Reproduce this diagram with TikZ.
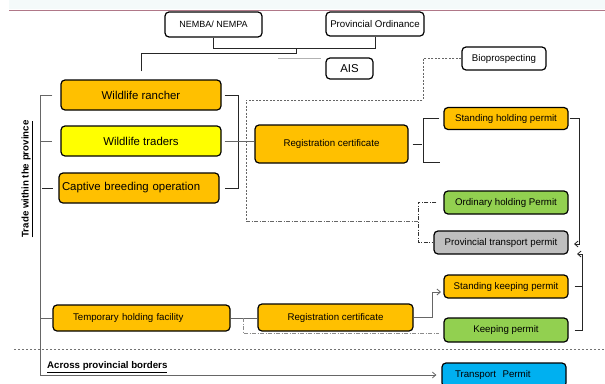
\documentclass[tikz,border=0pt]{standalone}
\usepackage{fontspec}
\setmainfont{Liberation Sans}
\usetikzlibrary{arrows.meta}
\definecolor{orng}{HTML}{FFC000}
\definecolor{yllw}{HTML}{FFFF00}
\definecolor{grn}{HTML}{92D050}
\definecolor{gry}{HTML}{BFBFBF}
\definecolor{blu}{HTML}{00B0F0}
\definecolor{hdr}{HTML}{F4FAFA}
\definecolor{hdrline}{HTML}{B07888}
\begin{document}
\begin{tikzpicture}[x=1pt,y=-1pt,
  box/.style={draw=black, line width=1.2pt, rounded corners=4pt, inner sep=0pt, font=\fontsize{9.7}{11}\selectfont},
  big/.style={font=\fontsize{11.4}{13}\selectfont},
  ln/.style={draw=black!85, line width=0.8pt},
  gln/.style={draw=black!60, line width=0.8pt},
  tip/.style={-{Straight Barb[length=3.5pt,width=6pt]}},
  lbl/.style={inner sep=0pt, font=\bfseries\fontsize{9.7}{11}\selectfont}
]
\useasboundingbox (0,0) rectangle (605,383);
% header
\fill[hdr] (9,0) rectangle (605,9);
\draw[hdrline, line width=1.5pt] (9,10.5) -- (605,10.5);

% nodes
\node[box, minimum width=97pt, minimum height=25pt, font=\fontsize{9}{11}\selectfont] (nemba) at (213.5,24.5) {NEMBA/ NEMPA};
\node[box, minimum width=98pt, minimum height=24pt] (prov) at (375,24) {Provincial Ordinance};
\node[box, big, minimum width=47pt, minimum height=21pt] (ais) at (349.5,68.5) {AIS};
\node[box, minimum width=84pt, minimum height=23pt] (bio) at (504,58.5) {Bioprospecting};

\node[box, big, fill=orng, minimum width=160pt, minimum height=30pt] (rancher) at (141,95) {Wildlife rancher};
\node[box, big, fill=yllw, minimum width=160pt, minimum height=30pt] (traders) at (141,141) {Wildlife traders};
\node[box, big, fill=orng, minimum height=30pt, inner xsep=3pt, text width=154pt, align=left] (captive) at (139,188) {Captive breeding operation};

\node[box, fill=orng, minimum width=153pt, minimum height=38pt] (reg1) at (331.5,144) {Registration certificate};

\node[box, fill=orng, minimum width=124pt, minimum height=22pt] (shp) at (506,118.5) {Standing holding permit};
\node[box, fill=grn, minimum width=124pt, minimum height=23pt] (ohp) at (506,202.5) {Ordinary holding Permit};
\node[box, fill=gry, minimum width=134pt, minimum height=23pt] (ptp) at (501,242.5) {Provincial transport permit};
\node[box, fill=orng, minimum width=124pt, minimum height=23pt] (skp) at (506,286.5) {Standing keeping permit};
\node[box, fill=grn, minimum width=124pt, minimum height=24pt] (kp) at (506,330) {Keeping permit};
\node[box, fill=blu, minimum height=24pt, inner xsep=13pt, text width=98pt, align=left] (tp) at (504,375) {Transport~ Permit};

\node[box, fill=orng, minimum height=26pt, inner xsep=20pt, text width=137pt, align=left] (temp) at (141.5,318) {Temporary holding facility};
\node[box, fill=orng, minimum width=155pt, minimum height=27pt] (reg2) at (335.5,317.5) {Registration certificate};

% labels
\node[lbl, rotate=90] (trade) at (27,179) {\underline{Trade within the province}};
\node[lbl, anchor=west] (across) at (47,367) {\underline{Across provincial borders}};

% top connectors
\coordinate (j1) at (296,48);
\coordinate (j2) at (296,53);
\draw[ln] (nemba.south) -- ++(0,11) -| (prov.south);
\draw[ln] ([yshift=8pt]rancher.north) |- (j2) -- (j1);
\coordinate (g1) at (278,58);
\coordinate (g2) at (321,58);
\draw[draw=black!30, line width=0.8pt] (g1) -- (g2);

% bioprospecting
\coordinate (b1) at (423,100);
\coordinate (b2) at (246,100);
\coordinate (b3) at (246,221);
\coordinate (b4) at (418,221);
\draw[gln, dashed, dash pattern=on 2pt off 1.5pt] (bio.west) -| (b1) -- (b2) -- (b3);
\draw[gln, dash pattern=on 4pt off 1.5pt on 1pt off 1.5pt] (b3) -- (b4);
\draw[draw=black!80, line width=0.8pt, dash pattern=on 4pt off 1.5pt on 1pt off 1.5pt] ([xshift=-7pt]ohp.west) -| (b4) |- ([xshift=-1pt]ptp.west);

% left bracket
\coordinate (L1) at (40,95);
\coordinate (L2) at (40,375);
\draw[gln, tip] ([xshift=-8pt]rancher.west) -- (L1) -- (L2) -- ([xshift=-5pt]tp.west |- L2);
\draw[gln] (L1 |- traders.west) -- ([xshift=-8pt]traders.west);
\draw[ln] ([xshift=-16pt]captive.west) -- ([xshift=-5pt]captive.west);
\draw[gln] (L1 |- temp.west) -- (temp.west);

% right bracket of top boxes
\coordinate (R1) at (238,98);
\draw[ln] ([xshift=3pt]rancher.east) -| (R1 |- captive.east) -- ([xshift=5pt]captive.east);
\draw[gln] ([xshift=3pt]traders.east) -- (reg1.west |- traders.east);

% registration certificate 1 outputs
\coordinate (R2t) at (423,118.5);
\coordinate (R2b) at (423,162);
\coordinate (R2e) at (440,162);
\coordinate (R2m) at (422,144);
\draw[ln] ([xshift=4pt]reg1.east) -- (R2m);
\draw[ln] ([xshift=-4pt]shp.west) -- (R2t) -- (R2b) -- (R2e);

% right arrows to provincial transport permit
\coordinate (A1) at (579,244);
\coordinate (A1t) at (574,244);
\draw[ln, tip] ([xshift=1pt]shp.east) -- (shp.east -| A1) -- (A1) -- (A1t);
\coordinate (A2) at (582,254);
\coordinate (A2t) at (577,254);
\draw[ln] ([xshift=6pt]skp.east) -- (skp.east -| A2);
\draw[ln, tip] ([xshift=6pt]kp.east) -- (kp.east -| A2) -- (A2) -- (A2t);

% temporary holding facility
\draw[gln] (temp.east) -- (temp.east -| reg2.west);
\coordinate (D1) at (243,318);
\coordinate (D2) at (243,333);
\draw[draw=black!45, line width=0.8pt, dash pattern=on 4pt off 1.5pt on 1pt off 1.5pt] (D1) -- (D2) -- ([xshift=-4pt]kp.west |- D2);
\coordinate (S1) at (432,317.5);
\coordinate (S2) at (432,292);
\coordinate (S3) at (441,292);
\draw[gln, tip] (reg2.east) -- (S1) -- (S2) -- (S3);

% separator
\draw[draw=black!55, line width=1pt, dash pattern=on 2pt off 2pt] (14,349) -- (605,349);
\end{tikzpicture}
\end{document}
